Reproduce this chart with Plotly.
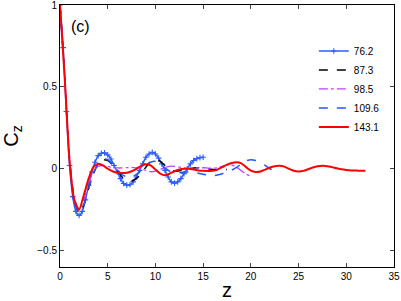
import plotly.graph_objects as go

# ---- data ----
z_762 = [0, 0.333, 0.667, 1.0, 1.333, 1.667, 2.0, 2.333, 2.667, 3.0, 3.333, 3.667,
         4.0, 4.333, 4.667, 5.0, 5.333, 5.667, 6.0, 6.333, 6.667, 7.0, 7.333, 7.667,
         8.0, 8.333, 8.667, 9.0, 9.333, 9.667, 10.0, 10.333, 10.667, 11.0, 11.333,
         11.667, 12.0, 12.333, 12.667, 13.0, 13.333, 13.667, 14.0, 14.333, 14.667, 15.0]
c_762 = [1.0, 0.74, 0.35, 0.02, -0.17, -0.26, -0.285, -0.26, -0.19, -0.10, -0.02, 0.04,
         0.08, 0.095, 0.097, 0.085, 0.06, 0.02, -0.02, -0.06, -0.09, -0.10, -0.098, -0.08,
         -0.05, -0.01, 0.03, 0.07, 0.09, 0.10, 0.09, 0.065, 0.03, -0.01, -0.05,
         -0.08, -0.088, -0.08, -0.06, -0.03, 0.0, 0.03, 0.05, 0.062, 0.068, 0.07]

z_873 = [0, 0.5, 1.0, 1.5, 2.0, 2.5, 3.0, 3.5, 4.0, 4.5, 5.0, 5.5, 6.0, 6.5, 7.0, 7.5,
         8.0, 8.5, 9.0, 9.5, 10.0, 10.5, 11.0, 11.5, 12.0, 12.5, 13.0, 13.5, 14.0, 14.5,
         15.0, 15.5, 16.0, 16.5, 17.0, 17.5]
c_873 = [1.0, 0.56, 0.06, -0.19, -0.27, -0.22, -0.12, -0.03, 0.03, 0.055, 0.05, 0.025,
         -0.01, -0.05, -0.07, -0.075, -0.06, -0.03, 0.01, 0.045, 0.055, 0.045, 0.02,
         -0.005, -0.015, -0.012, -0.005, 0.0, 0.005, 0.006, 0.004, 0.0, -0.004, -0.006,
         -0.006, -0.005]

z_985 = [0, 0.5, 1.0, 1.5, 2.0, 2.5, 3.0, 3.5, 4.0, 4.5, 5.0, 5.5, 6.0, 6.5, 7.0, 7.5,
         8.0, 8.5, 9.0, 9.5, 10.0, 10.5, 11.0, 11.5, 12.0, 12.5, 13.0, 13.5, 14.0, 14.5,
         15.0, 15.5, 16.0, 16.5, 17.0, 17.5, 18.0, 18.5, 19.0, 19.5, 20.0]
c_985 = [1.0, 0.56, 0.06, -0.18, -0.25, -0.19, -0.09, -0.02, 0.015, 0.02, 0.015, 0.008,
         0.005, 0.005, 0.007, 0.008, 0.005, 0.0, -0.01, -0.018, -0.015, -0.005, 0.008,
         0.015, 0.015, 0.01, 0.005, 0.003, 0.004, 0.006, 0.006, 0.004, 0.003, 0.006,
         0.015, 0.022, 0.022, 0.01, -0.012, -0.033, -0.045]

z_1096 = [0, 0.5, 1.0, 1.5, 2.0, 2.5, 3.0, 3.5, 4.0, 4.5, 5.0, 5.5, 6.0, 6.5, 7.0, 7.5,
          8.0, 8.5, 9.0, 9.5, 10.0, 10.5, 11.0, 11.5, 12.0, 12.5, 13.0, 13.5, 14.0, 14.5,
          15.0, 15.5, 16.0, 16.5, 17.0, 17.5, 18.0, 18.5, 19.0, 19.5, 20.0, 20.5, 21.0,
          21.5, 22.0, 22.5]
c_1096 = [1.0, 0.56, 0.05, -0.19, -0.265, -0.22, -0.12, -0.03, 0.03, 0.06, 0.055, 0.03,
          -0.005, -0.035, -0.05, -0.05, -0.035, -0.01, 0.02, 0.04, 0.045, 0.03, 0.005,
          -0.015, -0.025, -0.025, -0.02, -0.02, -0.022, -0.027, -0.033, -0.04, -0.042,
          -0.038, -0.03, -0.02, -0.008, 0.008, 0.03, 0.048, 0.055, 0.05, 0.038, 0.02,
          0.0, -0.016]

z_1431 = [0, 0.5, 1.0, 1.5, 2.0, 2.5, 3.0, 3.5, 4.0, 4.5, 5.0, 5.5, 6.0, 6.5, 7.0, 7.5,
          8.0, 8.5, 9.0, 9.5, 10.0, 10.5, 11.0, 11.5, 12.0, 12.5, 13.0, 13.5, 14.0, 14.5,
          15.0, 15.5, 16.0, 16.5, 17.0, 17.5, 18.0, 18.5, 19.0, 19.5, 20.0, 20.5, 21.0,
          21.5, 22.0, 22.5, 23.0, 23.5, 24.0, 24.5, 25.0, 25.5, 26.0, 26.5, 27.0, 27.5,
          28.0, 28.5, 29.0, 29.5, 30.0, 30.5, 31.0, 31.5, 32.0]
c_1431 = [1.0, 0.55, 0.05, -0.19, -0.25, -0.16, -0.06, 0.01, 0.03, 0.02, 0.0, -0.015,
          -0.024, -0.026, -0.024, -0.015, 0.0, 0.018, 0.028, 0.02, -0.005, -0.03, -0.04,
          -0.03, -0.015, -0.005, 0.0, 0.0, -0.005, -0.01, -0.012, -0.013, -0.012, -0.005,
          0.01, 0.025, 0.035, 0.04, 0.033, 0.01, -0.012, -0.02, -0.017, -0.005, 0.008,
          0.016, 0.018, 0.013, 0.0, -0.012, -0.016, -0.013, -0.003, 0.008, 0.015, 0.018,
          0.016, 0.01, 0.003, -0.003, -0.007, -0.01, -0.011, -0.012, -0.012]

x_ticks = [0, 5, 10, 15, 20, 25, 30, 35]
y_ticks = [-0.5, 0, 0.5, 1]
y_tick_text = ["\u22120.5", "0", "0.5", "1"]

FONT = "Liberation Sans, Arial, sans-serif"

fig = go.Figure()
fig.add_trace(go.Scatter(
    x=z_762, y=c_762, name="76.2", mode="lines+markers",
    line=dict(color="#2f5bff", width=1.5, shape="spline", smoothing=0.6),
    marker=dict(symbol="cross-thin", size=4, line=dict(color="#2f5bff", width=1.1))))
fig.add_trace(go.Scatter(
    x=z_873, y=c_873, name="87.3", mode="lines",
    line=dict(color="#000000", width=1.5, dash="dash", shape="spline", smoothing=0.6)))
fig.add_trace(go.Scatter(
    x=z_985, y=c_985, name="98.5", mode="lines",
    line=dict(color="#c040ff", width=1.3, dash="dashdot", shape="spline", smoothing=0.6)))
fig.add_trace(go.Scatter(
    x=z_1096, y=c_1096, name="109.6", mode="lines",
    line=dict(color="#2a55ee", width=1.5, dash="dash", shape="spline", smoothing=0.6)))
fig.add_trace(go.Scatter(
    x=z_1431, y=c_1431, name="143.1", mode="lines",
    line=dict(color="#ff0000", width=2, shape="spline", smoothing=0.6)))

fig.update_layout(
    width=401, height=301,
    margin=dict(l=60, r=7, t=5, b=34, autoexpand=False),
    paper_bgcolor="white", plot_bgcolor="white",
    font=dict(family=FONT, size=10, color="#000000"),
    showlegend=True,
    legend=dict(x=0.76, y=0.88, xanchor="left", yanchor="top",
                bgcolor="rgba(0,0,0,0)", borderwidth=0,
                font=dict(size=10), tracegroupgap=0),
    xaxis=dict(range=[0, 35], tickvals=x_ticks, ticks="inside", ticklen=4,
               showline=True, linecolor="#000000", linewidth=1, mirror="ticks",
               showgrid=False, zeroline=False, automargin=False,
               ticklabeloverflow="allow",
               title=dict(text="z", font=dict(size=20), standoff=2)),
    yaxis=dict(range=[-0.6, 1.0001], tickvals=y_ticks, ticktext=y_tick_text,
               ticks="inside", ticklen=4,
               showline=True, linecolor="#000000", linewidth=1, mirror="ticks",
               showgrid=False, zeroline=False, automargin=False,
               ticklabeloverflow="allow",
               title=dict(text="C<sub>z</sub>", font=dict(size=20), standoff=16)),
    annotations=[dict(text="(c)", x=0.026, y=0.917, xref="paper", yref="paper",
                      xanchor="left", yanchor="middle", showarrow=False,
                      font=dict(size=16))],
)

fig.write_html("out.html", config={"displayModeBar": False},
               post_script="document.body.style.margin='0';document.body.style.overflow='hidden';")
